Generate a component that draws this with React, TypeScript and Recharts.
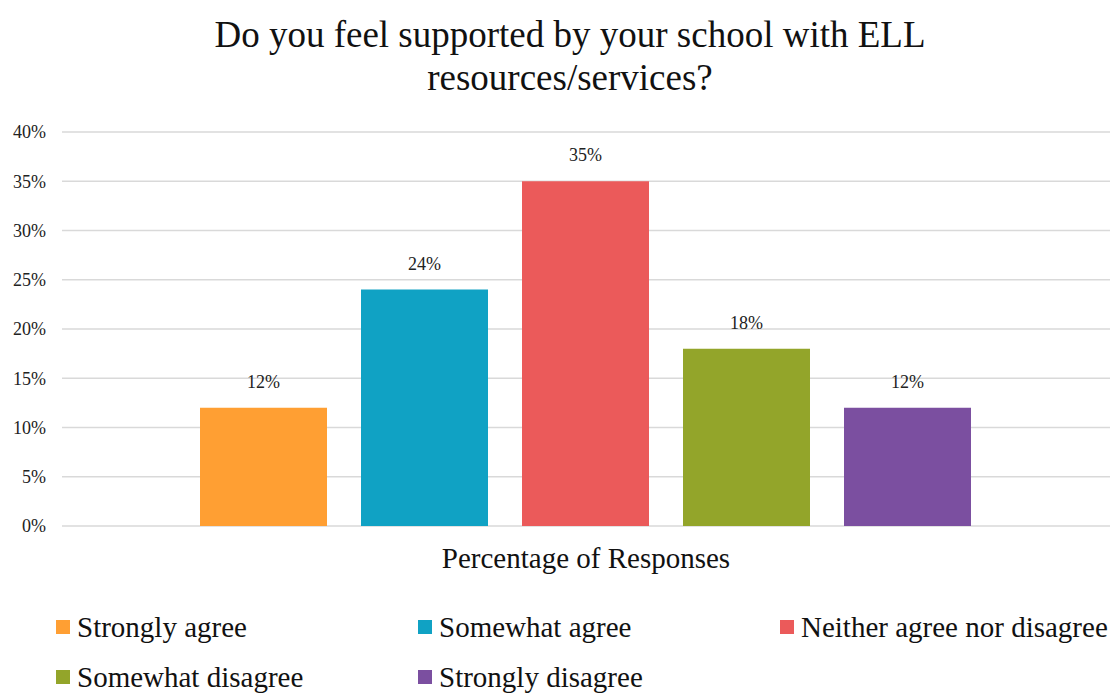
import { BarChart, Bar, XAxis, YAxis, CartesianGrid, Legend, LabelList } from 'recharts';

const FONT = '"Liberation Serif", "DejaVu Serif", "Noto Serif", Times, serif';

const categories = ['Percentage of Responses'];
const seriesNames = [
  'Strongly agree',
  'Somewhat agree',
  'Neither agree nor disagree',
  'Somewhat disagree',
  'Strongly disagree',
];
const seriesValues = [12, 24, 35, 18, 12];
const seriesColors = ['#FF9F33', '#10A2C4', '#EB5A5A', '#93A52A', '#7B4FA0'];
const yTicks = [0, 5, 10, 15, 20, 25, 30, 35, 40];

const data = categories.map((name) => {
  const row: Record<string, string | number> = { name };
  seriesNames.forEach((s, i) => {
    row[s] = seriesValues[i];
  });
  return row;
});

// keep legend in series order (recharts sorts by name otherwise)
const LegendGrid = ({ payload }: any) => {
  const items = [...(payload || [])].sort(
    (a: any, b: any) => seriesNames.indexOf(a.value) - seriesNames.indexOf(b.value)
  );
  return (
    <div
      style={{
        display: 'grid',
        gridTemplateColumns: '362px 362px 330px',
        rowGap: 16,
        paddingLeft: 56,
        fontFamily: FONT,
        fontSize: 29,
        color: '#111',
      }}
    >
      {items.map((item: any) => (
        <div key={item.value} style={{ display: 'flex', alignItems: 'center', height: 34, whiteSpace: 'nowrap' }}>
          <span style={{ width: 14, height: 14, background: item.color, marginRight: 7, flexShrink: 0 }} />
          <span>{item.value}</span>
        </div>
      ))}
    </div>
  );
};

export default function App() {
  return (
    <div style={{ position: 'absolute', left: 0, top: 0, width: 1114, height: 694, background: '#fff', fontFamily: FONT }}>
      <BarChart
        width={1114}
        height={694}
        data={data}
        margin={{ top: 132, right: 4, left: 0, bottom: 24 }}
        barCategoryGap={138}
        barGap={34}
        style={{ fontFamily: FONT }}
      >
        <CartesianGrid vertical={false} stroke="#d9d9d9" strokeWidth={1.5} />
        <XAxis
          dataKey="name"
          axisLine={false}
          tickLine={false}
          tickSize={0}
          tickMargin={21}
          height={60}
          tick={{ fill: '#111', fontSize: 29, fontFamily: FONT }}
        />
        <YAxis
          domain={[0, 40]}
          ticks={yTicks}
          axisLine={false}
          tickLine={false}
          tickSize={0}
          tickMargin={16}
          width={62}
          tickFormatter={(v) => `${v}%`}
          tick={{ fill: '#222', fontSize: 18, fontFamily: FONT }}
        />
        <Legend
          verticalAlign="bottom"
          content={<LegendGrid />}
          wrapperStyle={{ left: 0, bottom: 0, width: 1114 }}
        />
        {seriesNames.map((s, i) => (
          <Bar key={s} dataKey={s} name={s} fill={seriesColors[i]} isAnimationActive={false}>
            <LabelList
              dataKey={s}
              position="top"
              offset={20}
              formatter={(v: any) => `${v}%`}
              fill="#222"
              fontSize={18}
              fontFamily={FONT}
            />
          </Bar>
        ))}
      </BarChart>
      <div
        style={{
          position: 'absolute',
          top: 13,
          left: 0,
          width: 1140,
          textAlign: 'center',
          fontFamily: FONT,
          fontSize: 37,
          lineHeight: '43px',
          color: '#111',
        }}
      >
        Do you feel supported by your school with ELL
        <br />
        resources/services?
      </div>
    </div>
  );
}
